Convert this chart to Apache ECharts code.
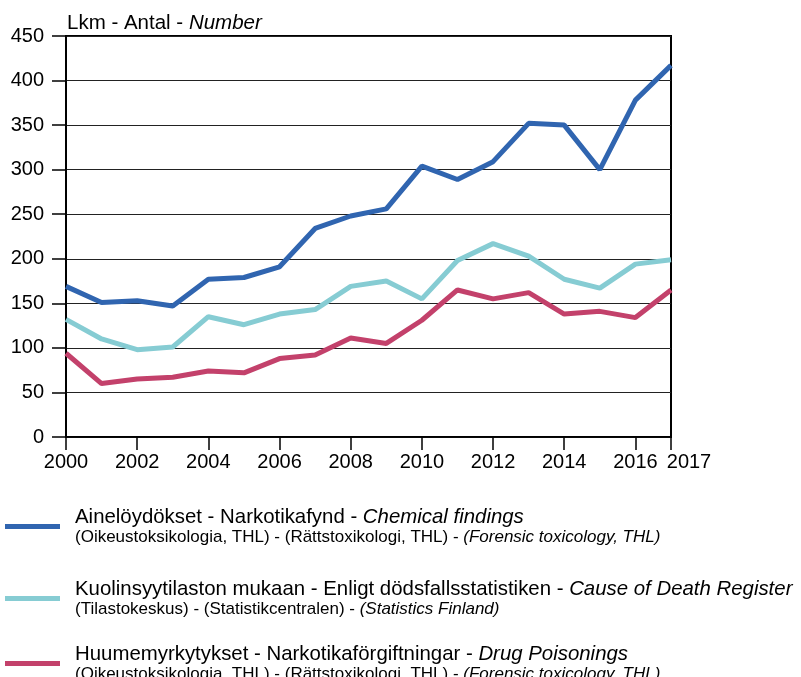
<!DOCTYPE html>
<html>
<head>
<meta charset="utf-8">
<script src="https://cdn.jsdelivr.net/npm/echarts@6/dist/echarts.min.js"></script>
<style>
  html, body { margin: 0; padding: 0; background: #fff; }
  #chart { width: 801px; height: 677px; }
</style>
</head>
<body>
<div id="chart"></div>
<script>
// vuodet / years
const years = ['2000', '2001', '2002', '2003', '2004', '2005', '2006', '2007', '2008',
  '2009', '2010', '2011', '2012', '2013', '2014', '2015', '2016', '2017']

// Ainelöydökset - Chemical findings
const chemical = [169, 151, 153, 147, 177, 179, 191, 234, 248, 256, 304, 289, 309, 352, 350, 300, 378, 417]
// Kuolinsyytilasto - Cause of Death Register
const causeOfDeath = [132, 110, 98, 101, 135, 126, 138, 143, 169, 175, 155, 198, 217, 203, 177, 167, 194, 199]
// Huumemyrkytykset - Drug Poisonings
const poisonings = [94, 60, 65, 67, 74, 72, 88, 92, 111, 105, 131, 165, 155, 162, 138, 141, 134, 165]

const yTicks = { min: 0, max: 450, step: 50 }

const legendMain = {
  chem: ['Ainelöydökset - Narkotikafynd - ', 'Chemical findings'],
  cod: ['Kuolinsyytilaston mukaan - Enligt dödsfallsstatistiken - ', 'Cause of Death Register'],
  drug: ['Huumemyrkytykset - Narkotikaförgiftningar - ', 'Drug Poisonings']
}
const legendSub = {
  chem: ['(Oikeustoksikologia, THL) - (Rättstoxikologi, THL) - ', '(Forensic toxicology, THL)'],
  cod: ['(Tilastokeskus) - (Statistikcentralen) - ', '(Statistics Finland)'],
  drug: ['(Oikeustoksikologia, THL) - (Rättstoxikologi, THL) - ', '(Forensic toxicology, THL)']
}

const font = 'Liberation Sans, Arial, Helvetica, sans-serif'

const rich = {
  a: { fontSize: 20.4, fontFamily: font, color: '#000', lineHeight: 22 },
  ai: { fontSize: 20.4, fontFamily: font, color: '#000', fontStyle: 'italic', lineHeight: 22 },
  b: { fontSize: 17, fontFamily: font, color: '#000', lineHeight: 19 },
  bi: { fontSize: 17, fontFamily: font, color: '#000', fontStyle: 'italic', lineHeight: 19 }
}

function legendItem (name, top) {
  return {
    left: 0,
    top,
    icon: 'rect',
    itemWidth: 55,
    itemHeight: 5,
    itemGap: 0,
    selectedMode: false,
    data: [name],
    textStyle: { rich, padding: [0, 0, 0, 10] },
    formatter (n) {
      const m = legendMain[n]
      const s = legendSub[n]
      return `{a|${m[0]}}{ai|${m[1]}}\n{b|${s[0]}}{bi|${s[1]}}`
    }
  }
}

const option = {
  animation: false,
  backgroundColor: '#fff',
  title: {
    text: '{n|Lkm - Antal - }{i|Number}',
    left: 62,
    top: 8,
    textStyle: {
      fontWeight: 'normal',
      rich: {
        n: { fontSize: 20.5, fontFamily: font, color: '#000', fontWeight: 'normal' },
        i: { fontSize: 20.5, fontFamily: font, color: '#000', fontStyle: 'italic', fontWeight: 'normal' }
      }
    }
  },
  grid: {
    left: 66,
    right: 130,
    top: 36,
    bottom: 240,
    show: true,
    borderColor: '#000',
    borderWidth: 2,
    containLabel: false
  },
  legend: [
    legendItem('chem', 502),
    legendItem('cod', 574),
    legendItem('drug', 639)
  ],
  xAxis: {
    type: 'category',
    boundaryGap: false,
    data: years,
    axisLine: { lineStyle: { color: '#000', width: 1.5 } },
    axisTick: {
      show: true,
      length: 13,
      lineStyle: { color: '#000', width: 1.5 },
      interval: (i) => i % 2 === 0 || i === years.length - 1
    },
    axisLabel: {
      interval: (i) => i % 2 === 0 || i === years.length - 1,
      margin: 15,
      color: '#000',
      fontSize: 20,
      fontFamily: font,
      formatter (v, i) {
        if (i === years.length - 1) return '{r|' + v + '}'
        return v
      },
      rich: {
        r: { fontSize: 20, fontFamily: font, color: '#000', padding: [0, 0, 0, 36] }
      }
    },
    splitLine: { show: false }
  },
  yAxis: {
    type: 'value',
    min: yTicks.min,
    max: yTicks.max,
    interval: yTicks.step,
    axisLine: { show: true, lineStyle: { color: '#000', width: 1.5 } },
    axisTick: { show: true, length: 14, lineStyle: { color: '#000', width: 1.5 } },
    axisLabel: {
      margin: 22,
      color: '#000',
      fontSize: 20,
      fontFamily: font
    },
    splitLine: { show: true, lineStyle: { color: '#222', width: 1.2 } }
  },
  series: [
    {
      name: 'chem',
      type: 'line',
      symbol: 'none',
      data: chemical,
      itemStyle: { color: '#3065b0' },
      lineStyle: { color: '#3065b0', width: 5 }
    },
    {
      name: 'cod',
      type: 'line',
      symbol: 'none',
      data: causeOfDeath,
      itemStyle: { color: '#86ccd3' },
      lineStyle: { color: '#86ccd3', width: 5 }
    },
    {
      name: 'drug',
      type: 'line',
      symbol: 'none',
      data: poisonings,
      itemStyle: { color: '#c3416b' },
      lineStyle: { color: '#c3416b', width: 5 }
    }
  ]
}

const chart = echarts.init(document.getElementById('chart'))
chart.setOption(option, true)
</script>
</body>
</html>
